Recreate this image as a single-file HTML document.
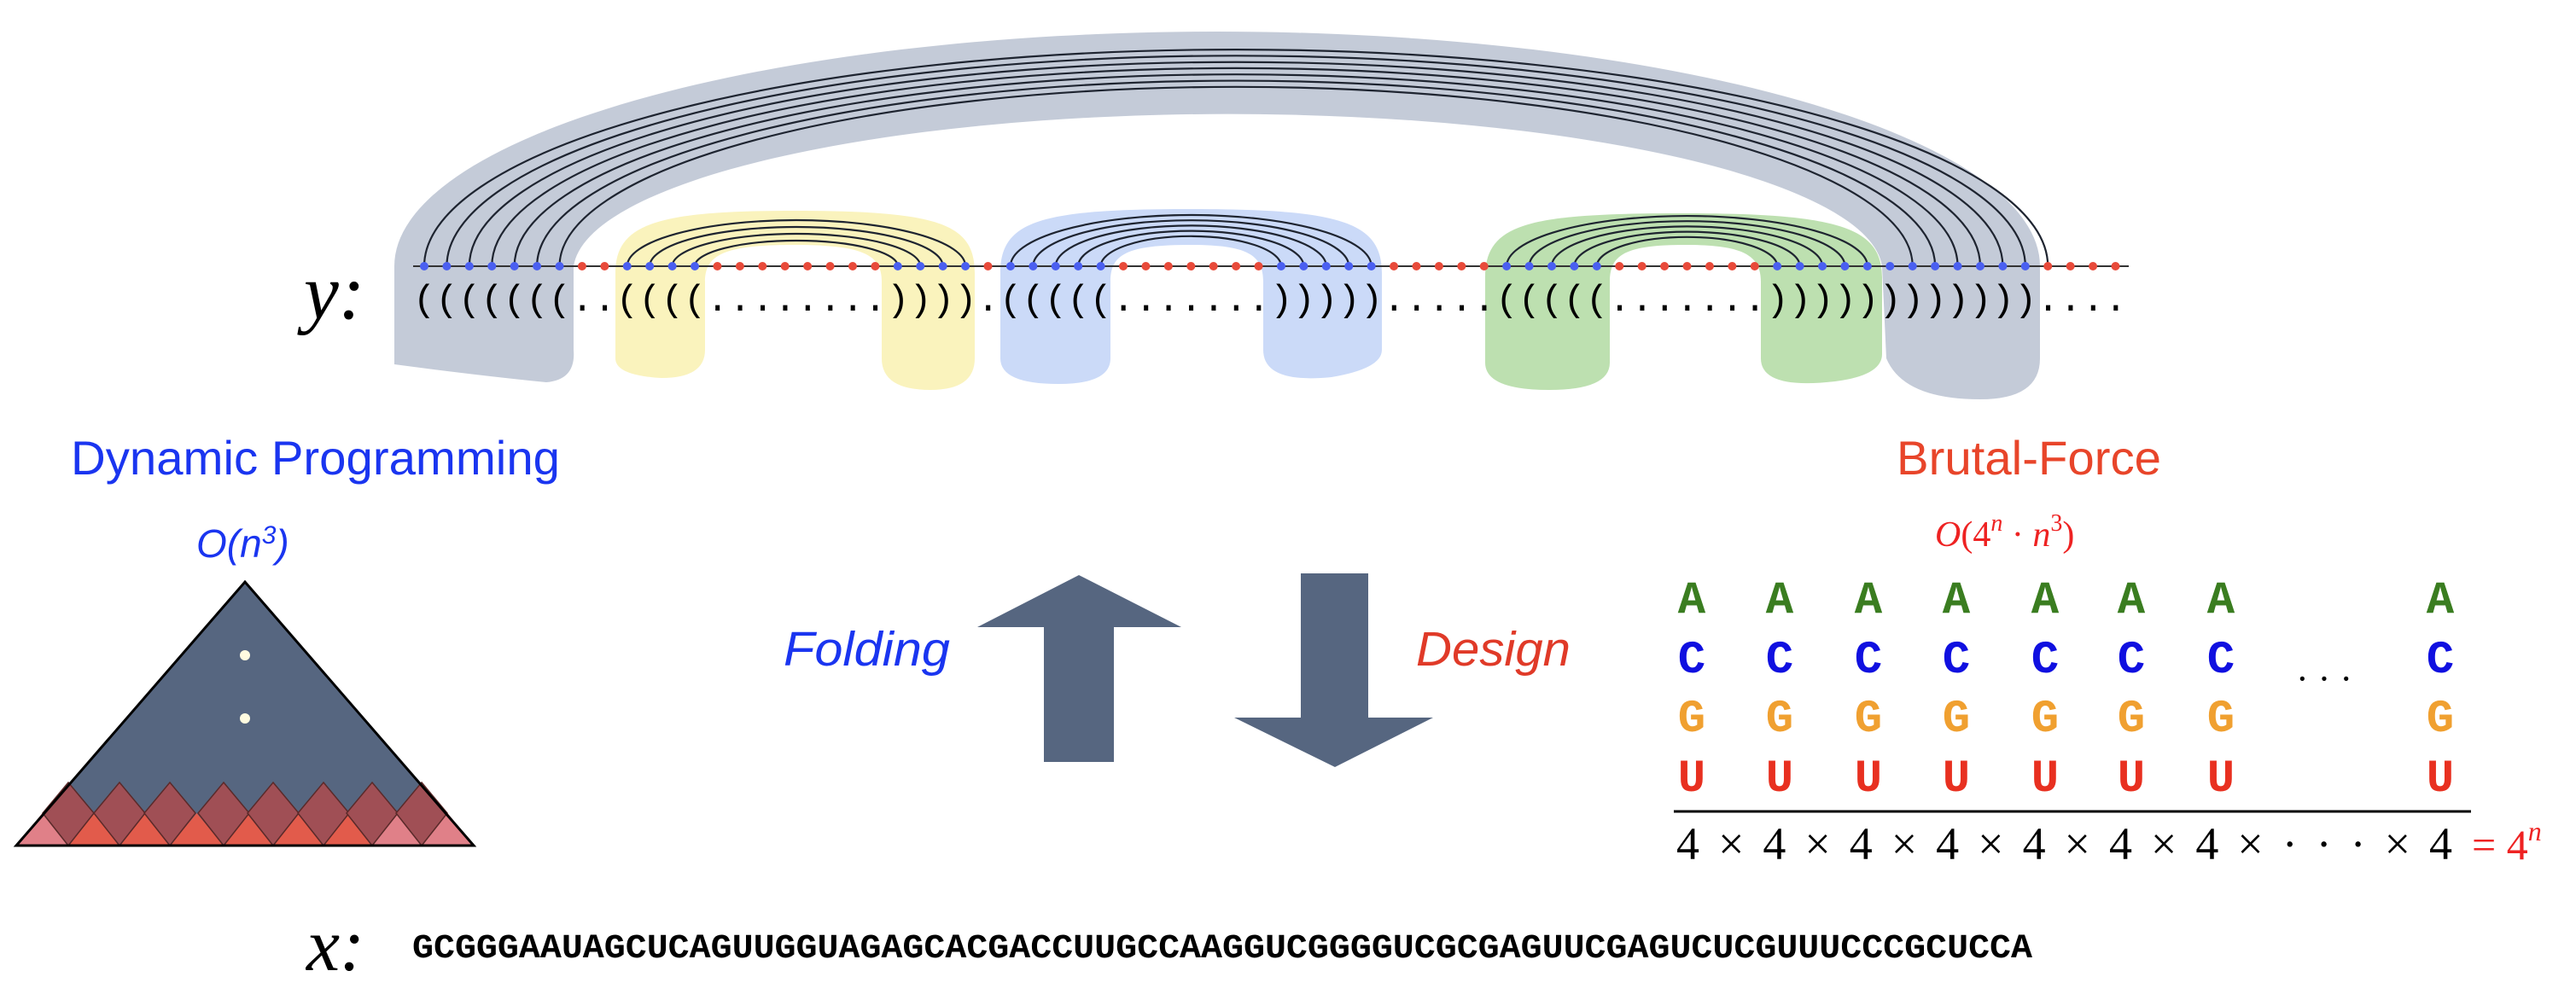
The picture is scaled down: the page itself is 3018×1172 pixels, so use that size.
<!DOCTYPE html>
<html><head><meta charset="utf-8"><style>
html,body{margin:0;padding:0;background:#fff;width:3018px;height:1172px;overflow:hidden}
svg{display:block}
</style></head><body>
<svg id="s" width="3018" height="1172" viewBox="0 0 3018 1172" xmlns="http://www.w3.org/2000/svg">
<!-- gray outer band -->
<path d="M462 430 L462 312 A964 275 0 0 1 2390 312 L2390 420 Q2390 468 2320 468 Q2230 468 2210 420 L2205 312 A767 185 0 0 0 672 312 L672 410 Q675 445 640 448 Q560 440 462 427 Z" fill="#c4cbd8"/>
<!-- yellow -->
<path d="M721 420 L721 320 C721 262 770 247 930 247 C1100 247 1142 262 1142 320 L1142 420 Q1142 457 1090 457 Q1033 457 1033 420 L1033 330 C1033 298 1010 287 930 287 C850 287 826 298 826 330 L826 410 Q826 443 775 443 Q721 440 721 420 Z" fill="#faf3bd"/>
<!-- blue -->
<path d="M1172 420 L1172 320 C1172 258 1220 245 1395 245 C1570 245 1619 260 1619 320 L1619 410 Q1619 432 1560 442 Q1480 450 1480 410 L1480 330 C1480 298 1460 287 1395 287 C1320 287 1301 298 1301 330 L1301 420 Q1301 450 1240 450 Q1172 450 1172 420 Z" fill="#cbdaf8"/>
<!-- green -->
<path d="M1740 425 L1740 325 C1740 262 1790 250 1970 250 C2150 250 2205 265 2205 325 L2205 415 Q2205 440 2150 447 Q2063 457 2063 420 L2063 330 C2063 298 2040 287 1975 287 C1905 287 1886 298 1886 330 L1886 425 Q1886 457 1815 457 Q1740 457 1740 425 Z" fill="#bde0b0"/>
<g id="arcs" fill="none" stroke="#1e2430" stroke-width="2.2"></g>
<line x1="484" y1="312" x2="2494" y2="312" stroke="#333" stroke-width="2"/>
<g id="dots"></g>
<text x="484" y="364" font-family="Liberation Mono, monospace" font-size="44" textLength="2008" lengthAdjust="spacing" fill="#000">(((((((..((((........)))).(((((.......))))).....(((((.......))))))))))))....</text>
<text x="356" y="373" font-family="Liberation Serif, serif" font-style="italic" font-size="92" fill="#000">y:</text>

<!-- left DP -->
<text x="83" y="556" font-family="Liberation Sans, sans-serif" font-size="56" textLength="573" lengthAdjust="spacingAndGlyphs" fill="#1a35f0">Dynamic Programming</text>
<text x="230" y="653" font-family="Liberation Sans, sans-serif" font-style="italic" font-size="46" fill="#1a35f0">O(<tspan>n</tspan><tspan dy="-16" font-size="30">3</tspan><tspan dy="16">)</tspan></text>
<polygon points="287,682 555,991 19,991" fill="#566680"/>
<g id="tri"></g>
<polygon points="287,682 555,991 19,991" fill="none" stroke="#000" stroke-width="3"/>
<circle cx="287" cy="768" r="6" fill="#fffbe0"/>
<circle cx="287" cy="842" r="6" fill="#fffbe0"/>

<!-- arrows -->
<polygon points="1264,674 1384,735 1305,735 1305,893 1223,893 1223,735 1145,735" fill="#566680"/>
<polygon points="1524,672 1603,672 1603,841 1679,841 1564,899 1446,841 1524,841" fill="#566680"/>
<text x="918" y="780" font-family="Liberation Sans, sans-serif" font-style="italic" font-size="57" textLength="195" lengthAdjust="spacingAndGlyphs" fill="#1a35f0">Folding</text>
<text x="1659" y="780" font-family="Liberation Sans, sans-serif" font-style="italic" font-size="57" textLength="181" lengthAdjust="spacingAndGlyphs" fill="#e03a28">Design</text>

<!-- brute force -->
<text x="2222" y="556" font-family="Liberation Sans, sans-serif" font-size="56" textLength="310" lengthAdjust="spacingAndGlyphs" fill="#e8452a">Brutal-Force</text>
<text x="2267" y="640" font-family="Liberation Serif, serif" font-size="42" fill="#ee2222"><tspan font-style="italic">O</tspan>(4<tspan dy="-18" font-size="28" font-style="italic">n</tspan><tspan dy="18"> · </tspan><tspan font-style="italic">n</tspan><tspan dy="-18" font-size="28">3</tspan><tspan dy="18">)</tspan></text>
<g font-family="Liberation Mono, monospace" font-weight="bold" font-size="54" text-anchor="middle">
<g fill="#3a7d20" id="rA"></g><g fill="#1010e0" id="rC"></g><g fill="#f0a030" id="rG"></g><g fill="#e83020" id="rU"></g>
</g>
<text x="2723" y="810" font-family="Liberation Serif, serif" font-size="44" text-anchor="middle" fill="#000">· · ·</text>
<line x1="1961" y1="951" x2="2895" y2="951" stroke="#000" stroke-width="3"/>
<text x="1964" y="1007" font-family="Liberation Serif, serif" font-size="54" textLength="909" lengthAdjust="spacing" fill="#000">4 × 4 × 4 × 4 × 4 × 4 × 4 × · · ·  × 4</text>
<text x="2896" y="1007" font-family="Liberation Serif, serif" font-size="50" fill="#ee2222">= 4<tspan dy="-22" font-size="32" font-style="italic">n</tspan></text>

<!-- x sequence -->
<text x="359" y="1137" font-family="Liberation Serif, serif" font-style="italic" font-size="88" fill="#000">x:</text>
<text x="483" y="1122" font-family="Liberation Mono, monospace" font-weight="bold" font-size="40" textLength="1898" lengthAdjust="spacingAndGlyphs" fill="#000">GCGGGAAUAGCUCAGUUGGUAGAGCACGACCUUGCCAAGGUCGGGGUCGCGAGUUCGAGUCUCGUUUCCCGCUCCA</text>
</svg>
<script>
(function(){
var NS="http://www.w3.org/2000/svg";
function el(p,t,a){var e=document.createElementNS(NS,t);for(var k in a)e.setAttribute(k,a[k]);p.appendChild(e);return e;}
var db="(((((((..((((........)))).(((((.......))))).....(((((.......))))))))))))....";
function X(i){return 497+i*26.42;}
var arcs=document.getElementById('arcs');
function arc(i,j,top){var x1=X(i),x2=X(j);var rx=(x2-x1)/2,ry=312-top;
el(arcs,'path',{d:'M'+x1+' 312 A'+rx+' '+ry+' 0 0 1 '+x2+' 312'});}
for(var k=0;k<7;k++)arc(k,72-k,58+7.3*k);
for(k=0;k<4;k++)arc(9+k,24-k,258+8*k);
for(k=0;k<5;k++)arc(26+k,42-k,252+6.2*k);
for(k=0;k<5;k++)arc(48+k,64-k,253+6.2*k);
var dots=document.getElementById('dots');
for(var i=0;i<76;i++){el(dots,'circle',{cx:X(i),cy:312,r:5,fill:db[i]=='.'?'#e84a3a':'#4a5ff0'});}
var tri=document.getElementById('tri');
var b=[19,80,140,199,262,320,379,436,494,555];
for(i=0;i<9;i++){var a=b[i],c=b[i+1],m=(a+c)/2;
el(tri,'polygon',{points:a+',991 '+m+',953 '+c+',991',fill:(i==0||i>=7)?'#e08088':'#e25b4b'});}
for(i=1;i<9;i++){var x=b[i];
el(tri,'polygon',{points:x+',917 '+(x+30)+',953 '+x+',991 '+(x-30)+',953',fill:'#a84c50','fill-opacity':'0.9',stroke:'#5a2a2a','stroke-width':'1.5'});}
var cols=[1982,2085,2189,2292,2396,2497,2602,2859];
var rows=[['rA','A',718],['rC','C',788],['rG','G',857],['rU','U',927]];
rows.forEach(function(r){var g=document.getElementById(r[0]);cols.forEach(function(cx){var t=el(g,'text',{x:cx,y:r[2]});t.textContent=r[1];});});
})();
</script>
</body></html>
